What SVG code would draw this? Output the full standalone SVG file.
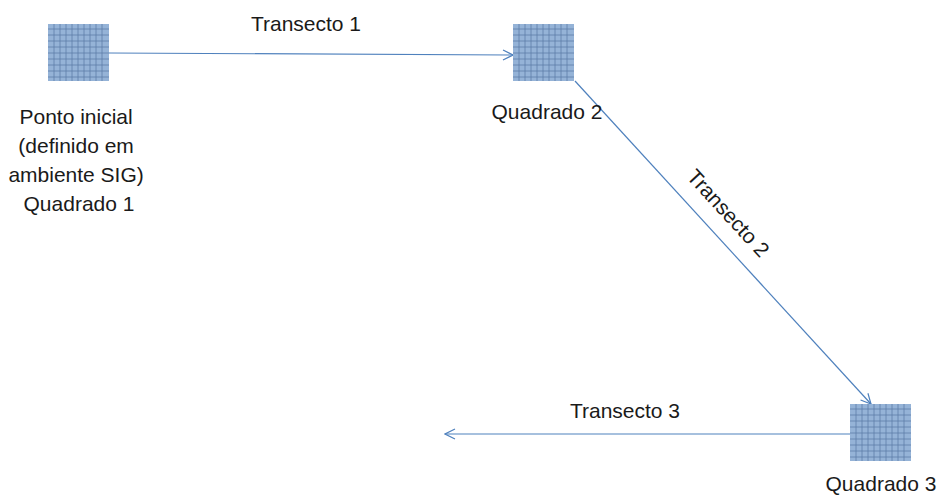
<svg xmlns="http://www.w3.org/2000/svg" xmlns:xlink="http://www.w3.org/1999/xlink" width="943" height="498" viewBox="0 0 943 498">
  <style>
    .lbl { font-family: "Liberation Sans", Arial, sans-serif; font-size: 21px; fill: #1a1a1a; }
    .link { stroke: #4F81BD; stroke-width: 1.2; fill: none; }
    .tile-bg { fill: #95B3D7; }
    .tile-grid { stroke: #5B7BA5; stroke-width: 1; fill: none; opacity: 0.75; }
  </style>
  <defs>
    <marker id="open-arrow" viewBox="0 0 12 12" refX="11" refY="6" markerWidth="12" markerHeight="12" markerUnits="userSpaceOnUse" orient="auto">
      <path d="M1,1 L11,6 L1,11" fill="none" stroke="#4F81BD" stroke-width="1.2"/>
    </marker>
    <!-- gridded sample square -->
    <symbol id="tile" viewBox="0 0 61 57" width="61" height="57">
      <rect class="tile-bg" x="0" y="0" width="61" height="57"/>
      <path class="tile-grid" d="M6,0V57 M12,0V57 M18,0V57 M24,0V57 M30,0V57 M36,0V57 M42,0V57 M48,0V57 M54,0V57
                                 M0,5H61 M0,11H61 M0,17H61 M0,23H61 M0,29H61 M0,35H61 M0,41H61 M0,47H61 M0,53H61"/>
    </symbol>
  </defs>

  <g id="connectors">
    <line class="link" x1="109" y1="53" x2="513" y2="55" marker-end="url(#open-arrow)"/>
    <line class="link" x1="575" y1="81" x2="871" y2="404" marker-end="url(#open-arrow)"/>
    <line class="link" x1="850" y1="434" x2="445" y2="434" marker-end="url(#open-arrow)"/>
    <text class="lbl" x="306" y="31" text-anchor="middle">Transecto 1</text>
    <text class="lbl" text-anchor="middle" transform="translate(723,218) rotate(47.5)">Transecto 2</text>
    <text class="lbl" x="625" y="418" text-anchor="middle">Transecto 3</text>
  </g>

  <g id="quadrado1">
    <use xlink:href="#tile" x="48" y="24"/>
    <text class="lbl" text-anchor="middle">
      <tspan x="79" y="124">Ponto inicial</tspan>
      <tspan x="79" y="153">(definido em</tspan>
      <tspan x="79" y="182">ambiente SIG)</tspan>
      <tspan x="79" y="211">Quadrado 1</tspan>
    </text>
  </g>

  <g id="quadrado2">
    <use xlink:href="#tile" x="513" y="24"/>
    <text class="lbl" x="547" y="119" text-anchor="middle">Quadrado 2</text>
  </g>

  <g id="quadrado3">
    <use xlink:href="#tile" x="850" y="404"/>
    <text class="lbl" x="881" y="491" text-anchor="middle">Quadrado 3</text>
  </g>
</svg>
